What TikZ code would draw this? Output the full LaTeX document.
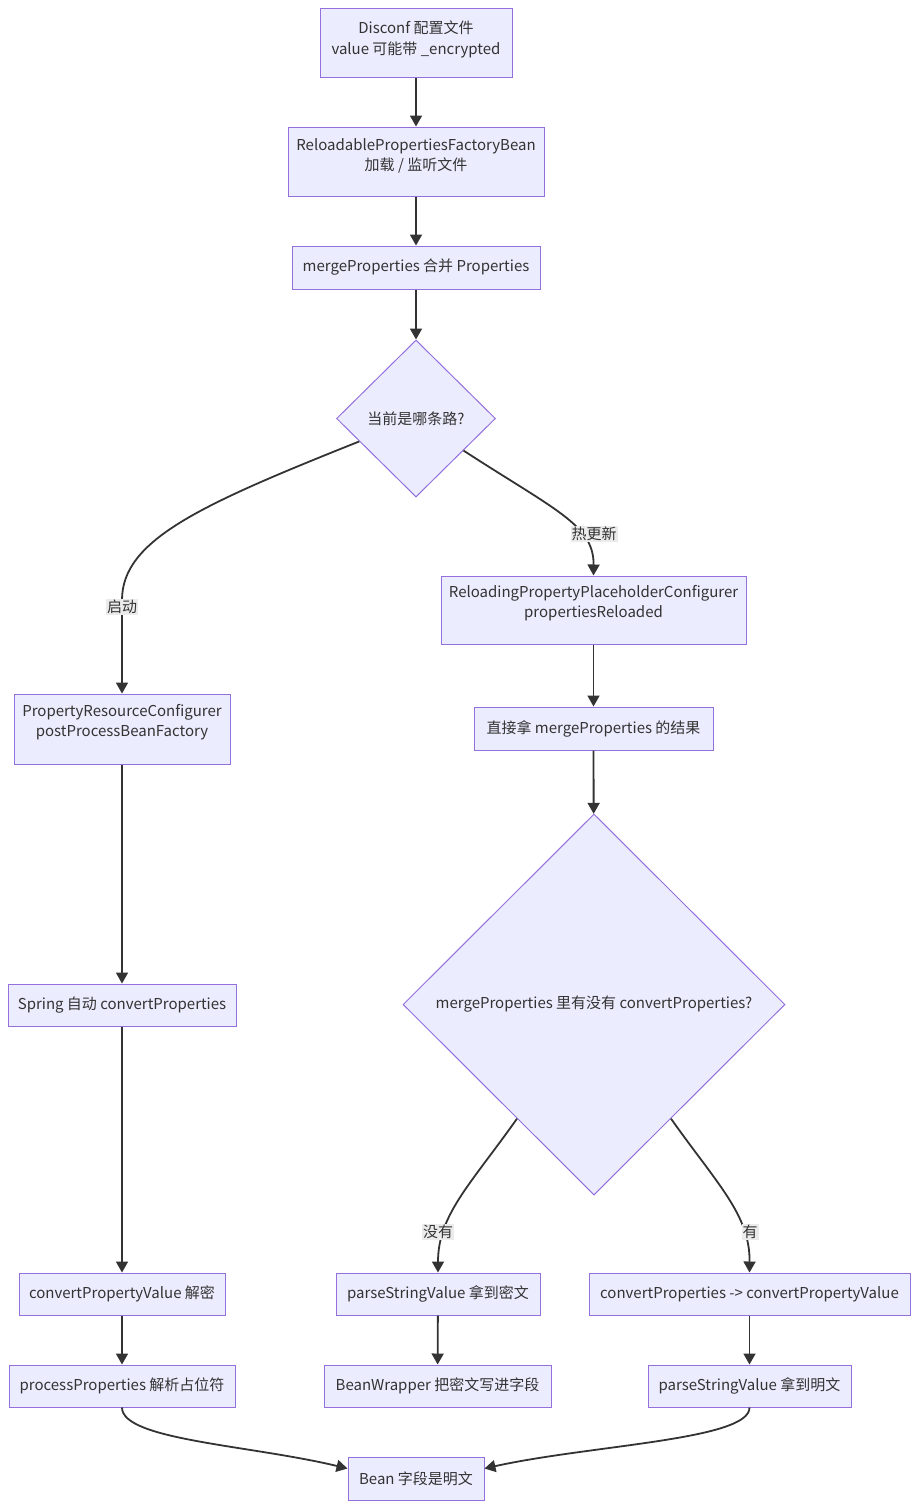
\documentclass[tikz,border=0pt]{standalone}
\usepackage{fontspec}
\setmainfont{Noto Sans CJK SC}
\usetikzlibrary{arrows.meta,shapes.geometric,calc}
\definecolor{boxfill}{HTML}{ECECFF}
\definecolor{boxline}{HTML}{9370DB}
\definecolor{ink}{HTML}{333333}
\definecolor{lblbg}{HTML}{EBEBEB}
\begin{document}
\begin{tikzpicture}[x=1pt,y=-1pt,
  every node/.style={font=\fontsize{15}{20.5}\selectfont, text=ink},
  box/.style={draw=boxline, fill=boxfill, line width=1pt, inner sep=0pt, align=center},
  dia/.style={diamond, draw=boxline, fill=boxfill, line width=1pt, inner sep=0pt, align=center},
  txt/.style={inner sep=0pt, align=center},
  lbl/.style={fill=lblbg, inner sep=1pt},
  edge/.style={draw=ink, line width=1.8pt, -{Triangle[length=11pt,width=12pt]}}]
\useasboundingbox (0,0) rectangle (918,1508);
% nodes
\node[box, minimum width=192pt, minimum height=69pt] (n1) at (416,42.5) {};
\node[txt] (t1) at (416,39.5) {Disconf 配置文件\\value 可能带 \_encrypted};
\node[box, minimum width=256pt, minimum height=69pt] (n2) at (416,161.5) {};
\node[txt] (t2) at (416,156) {ReloadablePropertiesFactoryBean\\加载 / 监听文件};
\node[box, minimum width=248pt, minimum height=43pt] (n3) at (416,267.5) {mergeProperties 合并 Properties};
\node[dia, minimum width=159pt, minimum height=157pt] (d1) at (416,418.5) {当前是哪条路?};
\node[box, minimum width=305pt, minimum height=68pt] (n5) at (593.5,610) {};
\node[txt] (t5) at (593.5,603) {ReloadingPropertyPlaceholderConfigurer\\propertiesReloaded};
\node[box, minimum width=216pt, minimum height=70pt] (n6) at (122,729) {};
\node[txt] (t6) at (122,722) {PropertyResourceConfigurer\\postProcessBeanFactory};
\node[box, minimum width=239pt, minimum height=43pt] (n7) at (593.5,728.5) {直接拿 mergeProperties 的结果};
\node[dia, minimum width=382pt, minimum height=381pt] (d2) at (594,1004.5) {mergeProperties 里有没有 convertProperties?};
\node[box, minimum width=228pt, minimum height=42pt] (n9) at (122,1005) {Spring 自动 convertProperties};
\node[box, minimum width=206pt, minimum height=42pt] (n10) at (122,1294) {convertPropertyValue 解密};
\node[box, minimum width=204pt, minimum height=42pt] (n11) at (438,1294) {parseStringValue 拿到密文};
\node[box, minimum width=321pt, minimum height=42pt] (n12) at (749.5,1294) {convertProperties -> convertPropertyValue};
\node[box, minimum width=226pt, minimum height=42pt] (n13) at (122,1386) {processProperties 解析占位符};
\node[box, minimum width=227pt, minimum height=42pt] (n14) at (437.5,1386) {BeanWrapper 把密文写进字段};
\node[box, minimum width=203pt, minimum height=42pt] (n15) at (749.5,1386) {parseStringValue 拿到明文};
\node[box, minimum width=136pt, minimum height=43pt] (n16) at (416,1478.5) {Bean 字段是明文};
% edges
\draw[edge] (n1) -- (n2);
\draw[edge] (n2) -- (n3);
\draw[edge] (n3) -- (d1);
\draw[edge] (d1.202) .. controls (200,505) and (122,540) .. (122,600) -- (n6);
\draw[edge] (d1.-34) .. controls (555,510) and (594,525) .. (n5.north);
\draw[edge] (n6) -- (n9);
\draw[edge] (n9) -- (n10);
\draw[edge] (n10) -- (n13);
\draw[edge] (n5) -- (n7);
\draw[edge] (n7) -- (d2);
\draw[edge] (d2.236) .. controls (470,1185) and (438,1215) .. (n11.north);
\draw[edge] (d2.-56) .. controls (718,1185) and (750,1215) .. (n12.north);
\draw[edge] (n11) -- (n14);
\draw[edge] (n12) -- (n15);
\draw[edge] (n13.south) .. controls (122,1440) and (250,1445) .. ($(n16.west)+(0,-10)$);
\draw[edge] (n15.south) .. controls (750,1440) and (590,1445) .. ($(n16.east)+(0,-10)$);
% edge labels
\node[lbl] (l1) at (122,607) {启动};
\node[lbl] (l2) at (594,534) {热更新};
\node[lbl] (l3) at (438,1232) {没有};
\node[lbl] (l4) at (750,1232) {有};
\end{tikzpicture}
\end{document}
